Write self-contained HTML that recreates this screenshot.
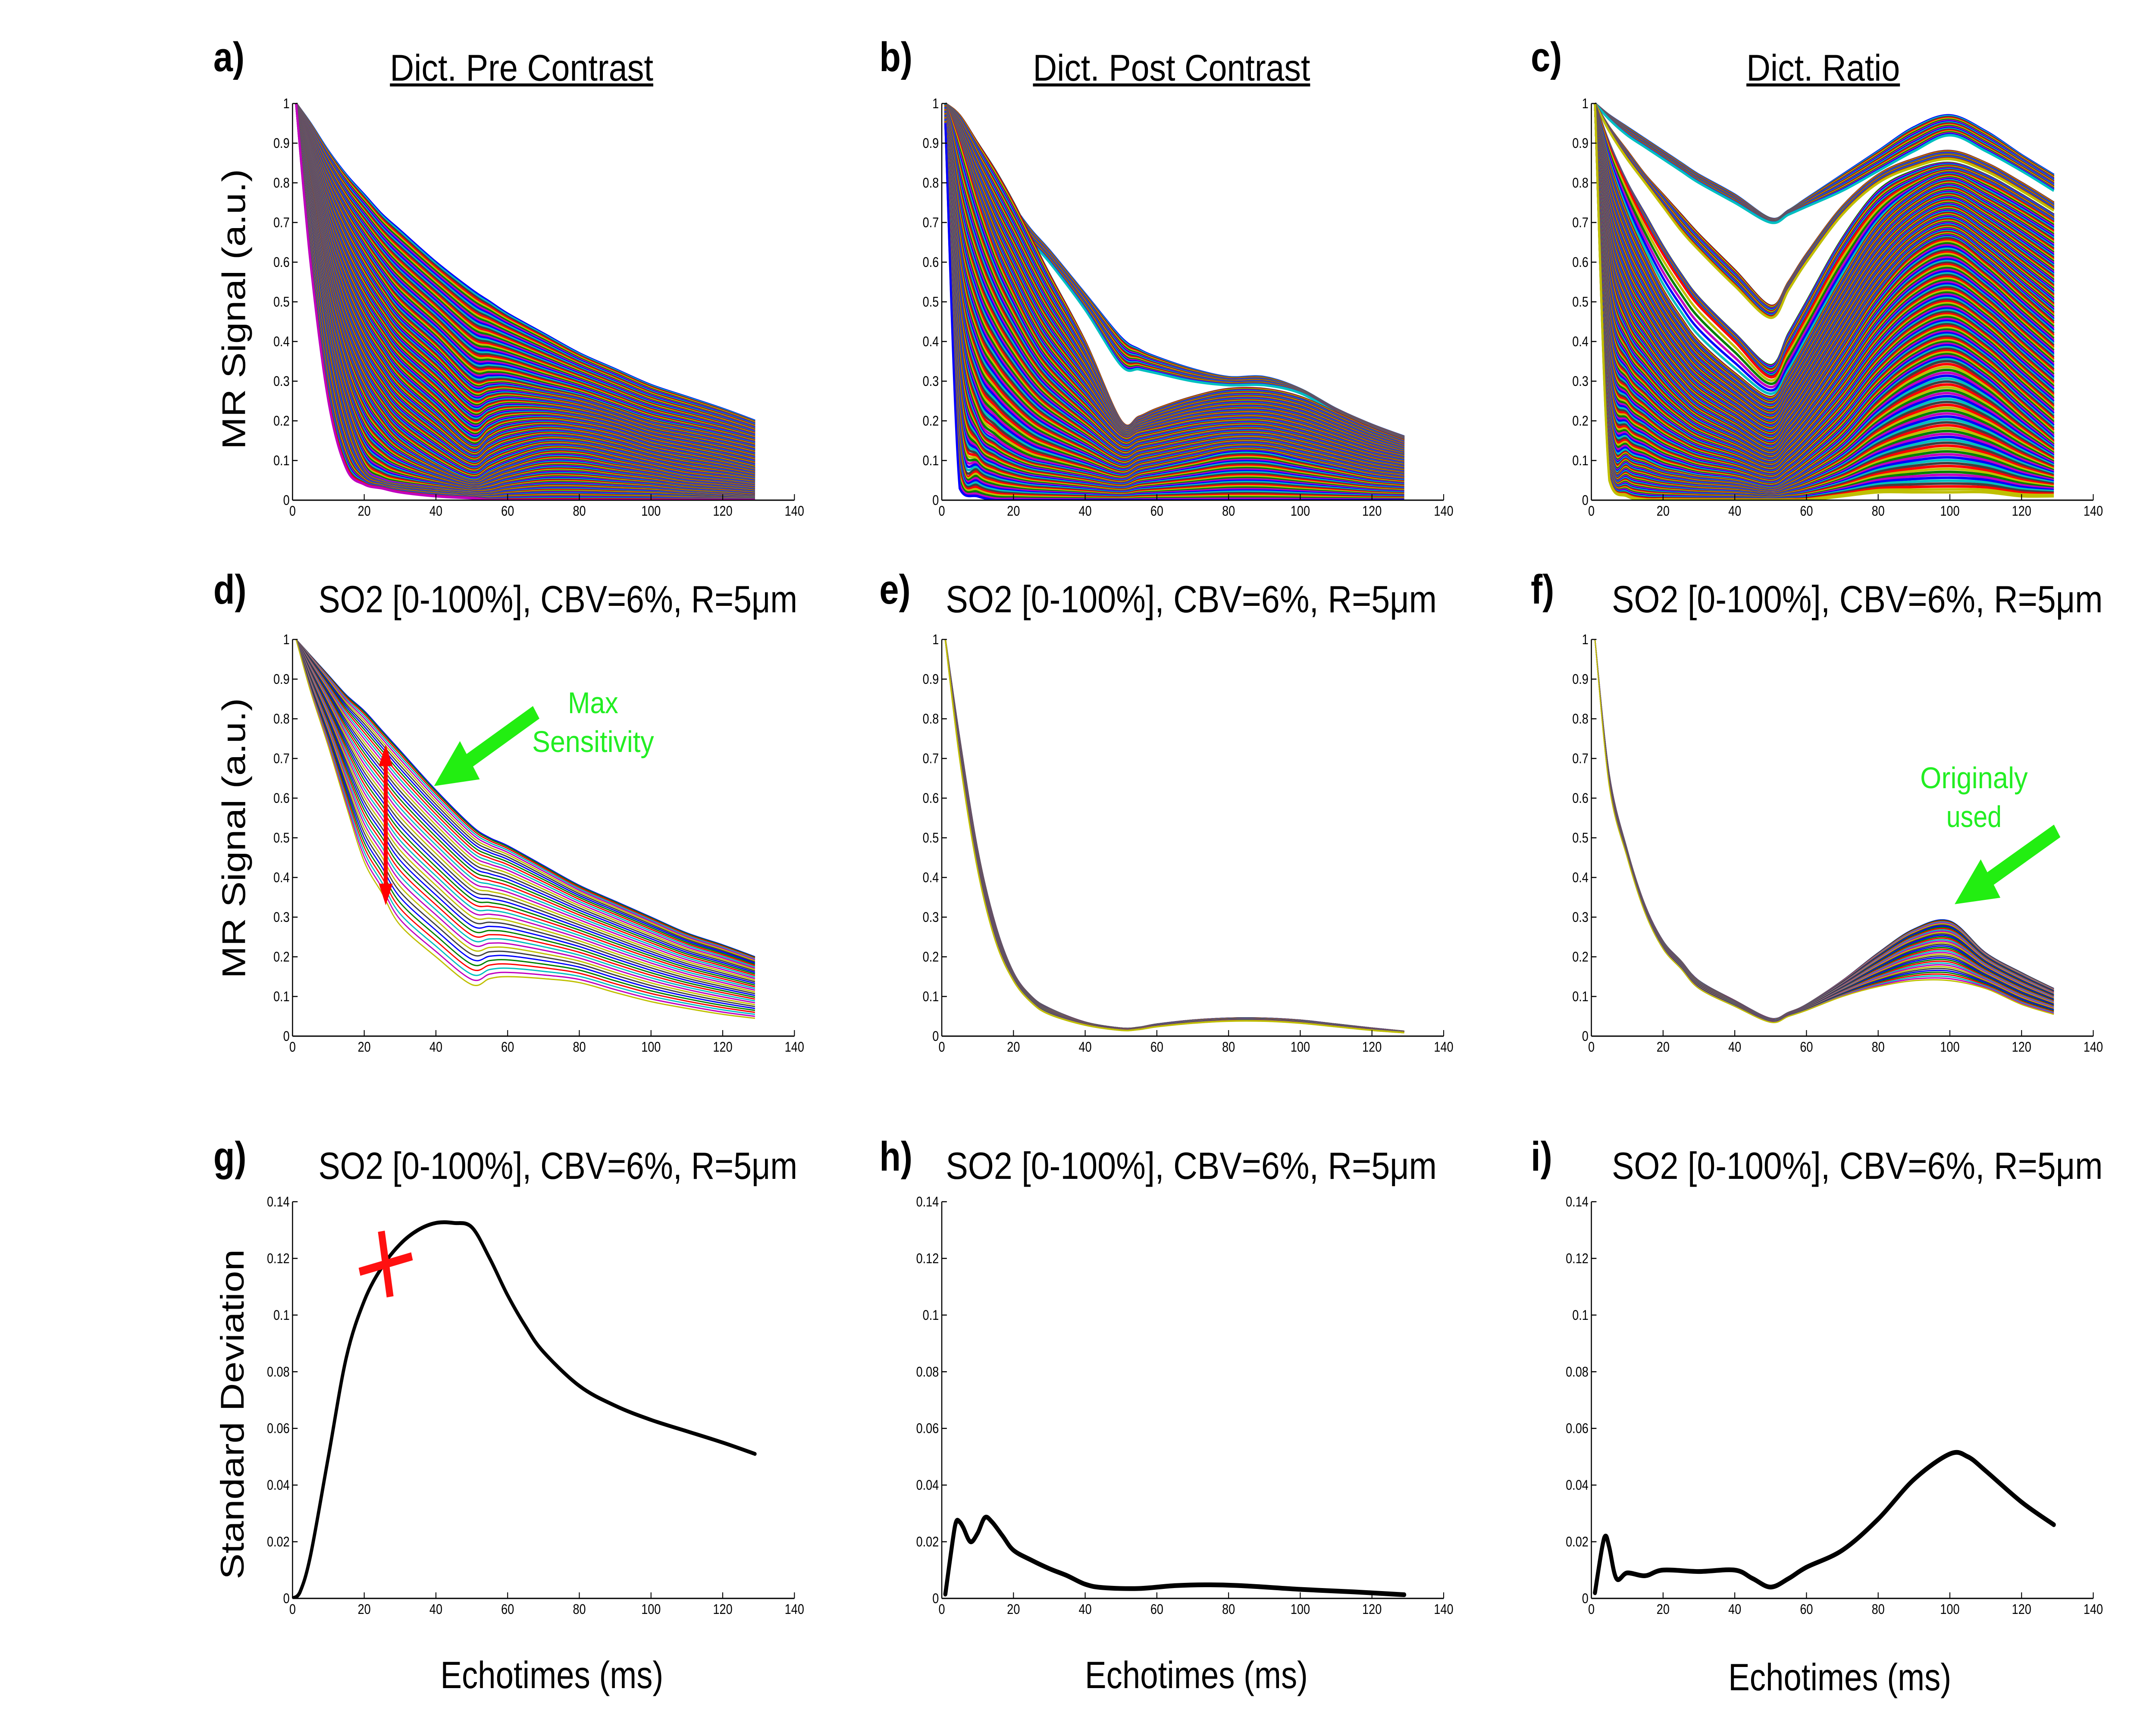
<!DOCTYPE html>
<html><head><meta charset="utf-8"><style>
html,body{margin:0;padding:0;background:#fff;overflow:hidden;}
svg{display:block;width:100vw;height:100vh;}
text{font-family:"Liberation Sans","DejaVu Sans",sans-serif;}
.tk{font-family:"Liberation Sans Narrow","Liberation Sans",sans-serif;font-size:32px;fill:#000;}
</style></head><body>
<svg id="fig" xmlns="http://www.w3.org/2000/svg" viewBox="0 0 5911 3989" preserveAspectRatio="none">
<defs id="defs"></defs>
<rect width="5911" height="3989" fill="#fff"/>
<g id="labels">
<text x="585" y="165" font-size="96" font-weight="bold">a)</text>
<text x="2411" y="165" font-size="96" font-weight="bold">b)</text>
<text x="4197" y="165" font-size="96" font-weight="bold">c)</text>
<text x="585" y="1400" font-size="96" font-weight="bold">d)</text>
<text x="2411" y="1400" font-size="96" font-weight="bold">e)</text>
<text x="4197" y="1400" font-size="96" font-weight="bold">f)</text>
<text x="585" y="2715" font-size="96" font-weight="bold">g)</text>
<text x="2411" y="2715" font-size="96" font-weight="bold">h)</text>
<text x="4197" y="2715" font-size="96" font-weight="bold">i)</text>

<text x="1069" y="187" font-size="86" textLength="722" lengthAdjust="spacingAndGlyphs">Dict. Pre Contrast</text>
<line x1="1069" y1="197" x2="1791" y2="197" stroke="#000" stroke-width="7"/>
<text x="2832" y="187" font-size="86" textLength="760" lengthAdjust="spacingAndGlyphs">Dict. Post Contrast</text>
<line x1="2832" y1="197" x2="3592" y2="197" stroke="#000" stroke-width="7"/>
<text x="4788" y="187" font-size="86" textLength="421" lengthAdjust="spacingAndGlyphs">Dict. Ratio</text>
<line x1="4788" y1="197" x2="5209" y2="197" stroke="#000" stroke-width="7"/>

<text x="873" y="1420" font-size="88" textLength="1313" lengthAdjust="spacingAndGlyphs">SO2 [0-100%], CBV=6%, R=5μm</text>
<text x="2593" y="1420" font-size="88" textLength="1346" lengthAdjust="spacingAndGlyphs">SO2 [0-100%], CBV=6%, R=5μm</text>
<text x="4419" y="1420" font-size="88" textLength="1346" lengthAdjust="spacingAndGlyphs">SO2 [0-100%], CBV=6%, R=5μm</text>
<text x="873" y="2734" font-size="88" textLength="1313" lengthAdjust="spacingAndGlyphs">SO2 [0-100%], CBV=6%, R=5μm</text>
<text x="2593" y="2734" font-size="88" textLength="1346" lengthAdjust="spacingAndGlyphs">SO2 [0-100%], CBV=6%, R=5μm</text>
<text x="4419" y="2734" font-size="88" textLength="1346" lengthAdjust="spacingAndGlyphs">SO2 [0-100%], CBV=6%, R=5μm</text>

<text transform="translate(672,717) rotate(-90)" text-anchor="middle" font-size="90">MR Signal (a.u.)</text>
<text transform="translate(672,1944) rotate(-90)" text-anchor="middle" font-size="90">MR Signal (a.u.)</text>
<text transform="translate(668,3280) rotate(-90)" text-anchor="middle" font-size="90">Standard Deviation</text>

<text x="1513" y="3915" text-anchor="middle" font-size="88">Echotimes (ms)</text>
<text x="3280" y="3915" text-anchor="middle" font-size="88">Echotimes (ms)</text>
<text x="5044" y="3920" text-anchor="middle" font-size="88">Echotimes (ms)</text>
</g>
<g id="plots"></g>
<g id="overlay">
<text x="1626" y="1654" text-anchor="middle" font-size="70" fill="#22ee22" textLength="138" lengthAdjust="spacingAndGlyphs">Max</text>
<text x="1626" y="1744" text-anchor="middle" font-size="70" fill="#22ee22" textLength="334" lengthAdjust="spacingAndGlyphs">Sensitivity</text>
<text x="5412" y="1828" text-anchor="middle" font-size="70" fill="#22ee22" textLength="295" lengthAdjust="spacingAndGlyphs">Originaly</text>
<text x="5412" y="1918" text-anchor="middle" font-size="70" fill="#22ee22">used</text>
</g>
</svg>
<script>
// ---- shared sampling times (ms) ----
const T = [1,5,10,15,20,25,30,40,50,55,60,70,80,90,100,110,120,129];
// ---- panel a reference curves ----
const aCurves = [
 [1,.95,.88,.82,.77,.72,.68,.60,.53,.50,.47,.42,.37,.33,.29,.26,.23,.20],
 [1,.90,.78,.68,.60,.53,.47,.39,.30,.30,.30,.28,.26,.23,.20,.18,.16,.14],
 [1,.85,.67,.53,.43,.36,.30,.22,.14,.17,.19,.20,.19,.17,.14,.12,.10,.08],
 [1,.80,.55,.38,.27,.20,.15,.09,.05,.07,.09,.12,.12,.10,.08,.06,.05,.04],
 [1,.70,.40,.20,.08,.05,.04,.03,.02,.02,.03,.04,.04,.035,.03,.02,.015,.01],
 [1,.60,.25,.08,.04,.03,.02,.01,.005,0,0,0,0,0,0,0,0,0]
];
const aCounts = [45,45,45,40,25];
// ---- panel b reference curves ----
const bCurves = [
 [1,.95,.88,.80,.74,.68,.63,.52,.41,.38,.36,.33,.31,.31,.28,.23,.19,.16],
 [1,.94,.86,.78,.71,.65,.60,.48,.34,.33,.32,.30,.29,.29,.27,.22,.18,.15],
 [1,.97,.90,.83,.75,.66,.57,.40,.20,.21,.23,.26,.28,.28,.26,.22,.18,.15],
 [1,.90,.75,.62,.52,.43,.36,.26,.16,.17,.18,.20,.21,.21,.19,.16,.13,.11],
 [1,.40,.20,.15,.12,.10,.09,.07,.05,.07,.08,.10,.12,.12,.10,.08,.06,.05],
 [.95,.03,.01,0,0,0,0,0,0,0,0,0,0,0,0,0,0,0]
];
const bCounts = [22,0,50,60,35];
// ---- panel c reference curves ----
const cCurves = [
 [1,.97,.94,.91,.88,.85,.82,.77,.71,.73,.76,.82,.88,.94,.97,.93,.87,.82],
 [1,.96,.92,.89,.86,.83,.80,.75,.70,.72,.74,.78,.83,.88,.92,.88,.83,.78],
 [1,.94,.88,.82,.77,.72,.67,.58,.49,.55,.62,.74,.82,.86,.88,.85,.80,.75],
 [1,.93,.86,.80,.74,.68,.63,.54,.46,.53,.60,.72,.80,.84,.86,.83,.78,.73],
 [1,.90,.80,.72,.64,.57,.51,.42,.34,.42,.50,.66,.78,.83,.85,.82,.77,.72],
 [1,.89,.79,.70,.62,.55,.49,.40,.31,.38,.46,.62,.74,.80,.83,.80,.75,.70],
 [1,.85,.72,.62,.53,.46,.40,.32,.26,.32,.40,.56,.70,.78,.82,.78,.73,.68],
 [1,.60,.45,.38,.32,.27,.23,.18,.13,.18,.24,.38,.52,.62,.66,.60,.52,.45],
 [1,.20,.12,.10,.08,.07,.06,.05,.03,.05,.08,.15,.25,.32,.35,.30,.22,.15],
 [1,.05,.01,0,0,0,0,0,0,0,0,.01,.02,.02,.02,.02,.01,.01]
];
const cCounts = [22,0,16,0,12,6,70,70,45];
// ---- row 2 envelopes ----
const dTop = [1,.96,.91,.86,.82,.77,.72,.62,.53,.50,.48,.43,.38,.34,.30,.26,.23,.20];
const dBot = [1,.87,.73,.58,.44,.36,.28,.20,.13,.145,.15,.145,.135,.11,.087,.07,.055,.045];
const eTop = [1,.75,.47,.28,.16,.10,.07,.035,.02,.022,.03,.04,.045,.045,.04,.03,.02,.012];
const eBot = [1,.70,.42,.24,.14,.085,.055,.028,.015,.017,.024,.033,.038,.038,.033,.024,.015,.009];
const fTop = [1,.66,.47,.33,.24,.19,.14,.09,.045,.06,.08,.14,.21,.27,.29,.21,.16,.12];
const fBot = [1,.63,.45,.31,.22,.17,.12,.075,.035,.05,.065,.10,.125,.14,.14,.12,.08,.055];
// ---- row 3 standard deviation ----
const gT = [0,2,5,10,15,20,25,30,35,40,45,50,55,60,65,70,80,90,100,110,120,129];
const gV = [0,.002,.015,.05,.085,.105,.117,.125,.13,.1325,.1325,.131,.12,.107,.096,.087,.075,.068,.063,.059,.055,.051];
const hT = [1,3,4,5,6,8,10,12,14,17,20,25,30,35,40,45,55,65,75,85,100,115,129];
const hV = [.0015,.02,.027,.027,.025,.020,.023,.0285,.027,.022,.017,.0135,.0105,.008,.005,.0038,.0035,.0045,.0048,.0044,.0032,.0023,.0013];
const iT = [1,3,4,5,7,10,15,20,30,40,45,50,55,60,70,80,90,100,105,110,120,129];
const iV = [.002,.018,.022,.018,.007,.009,.008,.010,.0095,.010,.007,.004,.007,.011,.017,.028,.042,.051,.050,.045,.034,.026];
// ---- ticks ----
const xTicks = [0,20,40,60,80,100,120,140];
const yTicksSig = [0,0.1,0.2,0.3,0.4,0.5,0.6,0.7,0.8,0.9,1];
const yTickLabelsSig = ["0","0.1","0.2","0.3","0.4","0.5","0.6","0.7","0.8","0.9","1"];
const yTicksSD = [0,0.02,0.04,0.06,0.08,0.1,0.12,0.14];
const yTickLabelsSD = ["0","0.02","0.04","0.06","0.08","0.1","0.12","0.14"];

const NS="http://www.w3.org/2000/svg";
const plots=document.getElementById('plots');
const defs=document.getElementById('defs');
const COLX=[802,2582,4363], ROWY0=[1160,2403,3707], H=920, W=1376;
const MCOL=["#0000ff","#008000","#ff0000","#00bfbf","#bf00bf","#bfbf00","#404040"];
let clipN=0;
function el(tag,attrs,parent){const e=document.createElementNS(NS,tag);for(const k in attrs)e.setAttribute(k,attrs[k]);parent.appendChild(e);return e;}
function makeAxes(ci,ri,ymax,name){
  const x0=COLX[ci], y0=ROWY0[ri];
  const id='clip'+(clipN++);
  const cp=el('clipPath',{id:id},defs);
  el('rect',{x:x0,y:y0-H-20,width:W,height:H+20},cp);
  const outer=el('g',{},plots);
  
  
  const g=el('g',{'clip-path':'url(#'+id+')'},outer);
  const sx=t=>x0+t/140*W, sy=v=>y0-v/ymax*H;
  return {g,outer,sx,sy,x0,y0};
}
function drawFrame(ax,ticks,labels){
  const {outer,sx,sy,x0,y0}=ax;
  const fr=el('g',{},outer);
  
  
  el('line',{x1:x0,y1:y0,x2:x0+W,y2:y0,stroke:'#000','stroke-width':3},fr);
  el('line',{x1:x0,y1:y0,x2:x0,y2:y0-H,stroke:'#000','stroke-width':3},fr);
  xTicks.forEach(t=>{
    el('line',{x1:sx(t),y1:y0,x2:sx(t),y2:y0-14,stroke:'#000','stroke-width':2.5},fr);
    const tx=el('text',{x:sx(t),y:y0+36,'text-anchor':'middle',class:'tk'},fr);
    tx.textContent=String(t);
    
    
  });
  ticks.forEach((v,k)=>{
    el('line',{x1:x0,y1:sy(v),x2:x0+14,y2:sy(v),stroke:'#000','stroke-width':2.5},fr);
    const tx=el('text',{x:x0-8,y:sy(v)+11,'text-anchor':'end',class:'tk'},fr);
    tx.textContent=labels[k];
    
    
  });
}
// smooth Catmull-Rom path through data points (control points clamped to the baseline)
function pathD(ts,vs,sx,sy){
  const P=ts.map((t,i)=>[sx(t),sy(vs[i])]);
  const yb=sy(0);
  const cl=y=>Math.min(y,yb);
  let d='M'+P[0][0].toFixed(1)+' '+P[0][1].toFixed(1);
  for(let i=0;i<P.length-1;i++){
    const p0=P[Math.max(0,i-1)],p1=P[i],p2=P[i+1],p3=P[Math.min(P.length-1,i+2)];
    const c1x=p1[0]+(p2[0]-p0[0])/6,c1y=cl(p1[1]+(p2[1]-p0[1])/6);
    const c2x=p2[0]-(p3[0]-p1[0])/6,c2y=cl(p2[1]-(p3[1]-p1[1])/6);
    d+='C'+c1x.toFixed(1)+' '+c1y.toFixed(1)+' '+c2x.toFixed(1)+' '+c2y.toFixed(1)+' '+p2[0].toFixed(1)+' '+p2[1].toFixed(1);
  }
  return d;
}
function bundle(ax,curves,counts,sw){
  let ci=0;
  for(let k=0;k<counts.length;k++){
    const A=curves[k],B=curves[k+1],n=counts[k];
    const cnt = n===0?1:n;
    for(let j=0;j<cnt;j++){
      const f=n===0?0:j/n;
      const vs=A.map((a,i)=>a+(B[i]-a)*f);
      const p=el('path',{d:pathD(T,vs,ax.sx,ax.sy),fill:'none',stroke:MCOL[(ci*3)%7],'stroke-width':sw,'stroke-linejoin':'round'},ax.g);
      
      
      ci++;
    }
  }
  const last=curves[curves.length-1];
  const p=el('path',{d:pathD(T,last,ax.sx,ax.sy),fill:'none',stroke:MCOL[ci%7],'stroke-width':sw},ax.g);
  
  
}
function fan(ax,top,bot,n,sw){
  for(let j=0;j<=n;j++){
    const f=Math.pow(j/n,1.3);
    const vs=top.map((a,i)=>a+(bot[i]-a)*f);
    const p=el('path',{d:pathD(T,vs,ax.sx,ax.sy),fill:'none',stroke:MCOL[j%7],'stroke-width':sw,'stroke-linejoin':'round'},ax.g);
    
    
  }
}
function sdLine(ax,ts,vs,sw){
  const p=el('path',{d:pathD(ts,vs,ax.sx,ax.sy),fill:'none',stroke:'#000','stroke-width':sw,'stroke-linejoin':'round','stroke-linecap':'round'},ax.g);
  
  
}
// Row 1
const pa=makeAxes(0,0,1,'panel-a-pre-contrast');
bundle(pa,aCurves,aCounts,6); drawFrame(pa,yTicksSig,yTickLabelsSig);
const pb=makeAxes(1,0,1,'panel-b-post-contrast');
bundle(pb,bCurves,bCounts,6); drawFrame(pb,yTicksSig,yTickLabelsSig);
const pc=makeAxes(2,0,1,'panel-c-ratio');
bundle(pc,cCurves,cCounts,6); drawFrame(pc,yTicksSig,yTickLabelsSig);
// Row 2
const pd=makeAxes(0,1,1,'panel-d-pre-so2');
fan(pd,dTop,dBot,40,3); drawFrame(pd,yTicksSig,yTickLabelsSig);
const pe=makeAxes(1,1,1,'panel-e-post-so2');
fan(pe,eTop,eBot,40,4); drawFrame(pe,yTicksSig,yTickLabelsSig);
const pf=makeAxes(2,1,1,'panel-f-ratio-so2');
fan(pf,fTop,fBot,40,3); drawFrame(pf,yTicksSig,yTickLabelsSig);
// Row 3
const pg=makeAxes(0,2,0.14,'panel-g-pre-std');
sdLine(pg,gT,gV,9); drawFrame(pg,yTicksSD,yTickLabelsSD);
const ph=makeAxes(1,2,0.14,'panel-h-post-std');
sdLine(ph,hT,hV,11); drawFrame(ph,yTicksSD,yTickLabelsSD);
const pi=makeAxes(2,2,0.14,'panel-i-ratio-std');
sdLine(pi,iT,iV,11); drawFrame(pi,yTicksSD,yTickLabelsSD);

// Annotations
const ov=document.getElementById('overlay');
const rx=pd.sx(26), ry1=pd.sy(0.735), ry2=pd.sy(0.33);
const ra=el('g',{},ov);


el('line',{x1:rx,y1:ry1+45,x2:rx,y2:ry2-45,stroke:'#ff0000','stroke-width':11},ra);
el('polygon',{points:`${rx},${ry1} ${rx-19},${ry1+50} ${rx+19},${ry1+50}`,fill:'#ff0000'},ra);
el('polygon',{points:`${rx},${ry2} ${rx-19},${ry2-50} ${rx+19},${ry2-50}`,fill:'#ff0000'},ra);
function greenArrow(x1,y1,x2,y2,name){
  const g=el('g',{},ov);
  
  
  const dx=x2-x1,dy=y2-y1,L=Math.hypot(dx,dy),ux=dx/L,uy=dy/L,nx=-uy,ny=ux;
  const hl=115,hw=52,sw=17;
  const bx=x2-ux*hl,by=y2-uy*hl;
  const pts=[[x1+nx*sw,y1+ny*sw],[bx+nx*sw,by+ny*sw],[bx+nx*hw,by+ny*hw],[x2,y2],[bx-nx*hw,by-ny*hw],[bx-nx*sw,by-ny*sw],[x1-nx*sw,y1-ny*sw]];
  el('polygon',{points:pts.map(p=>p[0].toFixed(1)+','+p[1].toFixed(1)).join(' '),fill:'#22ee11'},g);
}
greenArrow(1470,1652,1190,1823,'max-sensitivity-arrow');
greenArrow(5640,1927,5359,2097,'originaly-used-arrow');
const cx=pg.sx(26), cy=pg.sy(0.118);
const rxg=el('g',{},ov);


el('line',{x1:cx-72,y1:cy+18,x2:cx+72,y2:cy-18,stroke:'#ff1111','stroke-width':19},rxg);
el('line',{x1:cx-12,y1:cy-76,x2:cx+12,y2:cy+76,stroke:'#ff1111','stroke-width':19},rxg);
</script>
</body></html>
